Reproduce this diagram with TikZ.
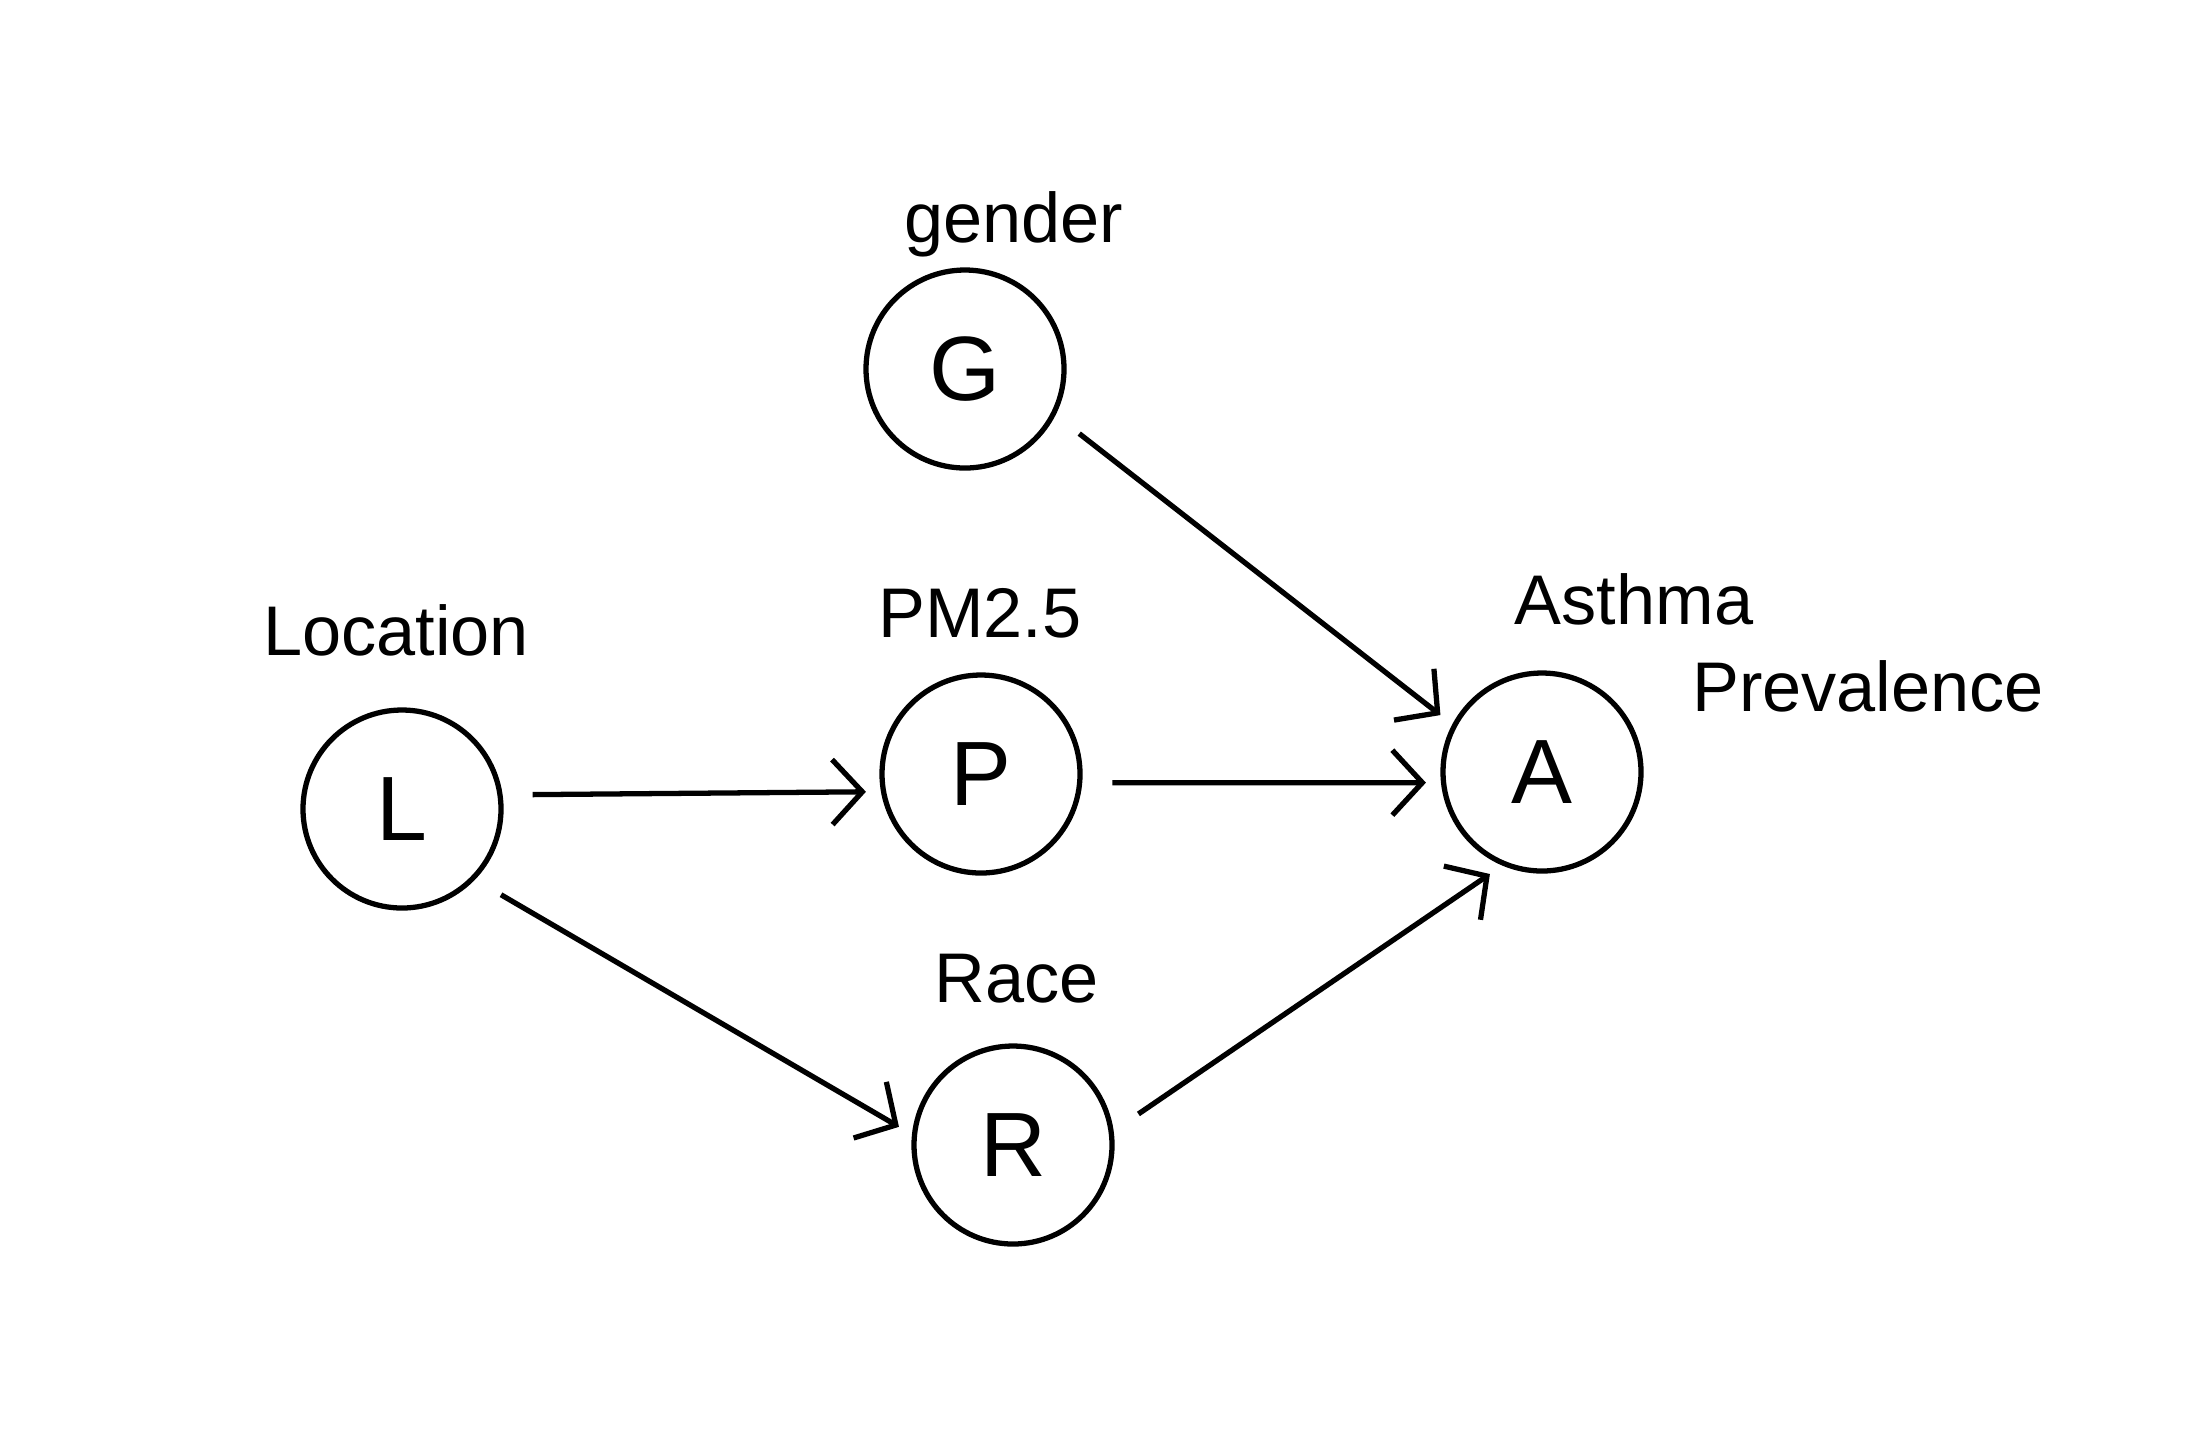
\documentclass[tikz,border=0pt]{standalone}
\usepackage{fontspec}
\setmainfont{Liberation Sans}
\usetikzlibrary{arrows.meta}

\tikzset{
  var/.style={circle, draw, line width=1.5pt, minimum size=1.98cm, inner sep=0pt, font=\fontsize{26}{30}\selectfont},
  lab/.style={font=\fontsize{20}{24}\selectfont},
  edge/.style={line width=1.5pt, -{Straight Barb[length=3mm,width=6.5mm]}, shorten <=0.3cm, shorten >=0.15cm}
}

\begin{document}
\begin{tikzpicture}
\useasboundingbox (0,0) rectangle (21.94,-14.28);

\coordinate (g) at (9.65,-3.69);
\coordinate (l) at (4.02,-8.09);
\coordinate (p) at (9.81,-7.74);
\coordinate (a) at (15.42,-7.72);
\coordinate (r) at (10.13,-11.45);

\node [var] (G) at (g) {G};
\node [var] (L) at (l) {L};
\node [var] (P) at (p) {P};
\node [var] (A) at (a) {A};
\node [var] (R) at (r) {R};

\node [lab] (gender) at (10.14,-2.24) {gender};
\node [lab] (location) at (3.96,-6.30) {Location};
\node [lab] (pm) at (9.80,-6.13) {PM2.5};
\node [lab] (asthma) at (16.34,-5.99) {Asthma};
\node [lab] (prev) at (18.68,-6.86) {Prevalence};
\node [lab] (race) at (10.17,-9.79) {Race};

\draw [edge] (L.8) -- (P.190);
\draw [edge] (L.-44) -- (R.174);
\draw [edge] (G.-27) -- (A.152);
\draw [edge] (P.-5) -- (A.186);
\draw [edge] (R.8) -- (A.247);
\end{tikzpicture}
\end{document}
